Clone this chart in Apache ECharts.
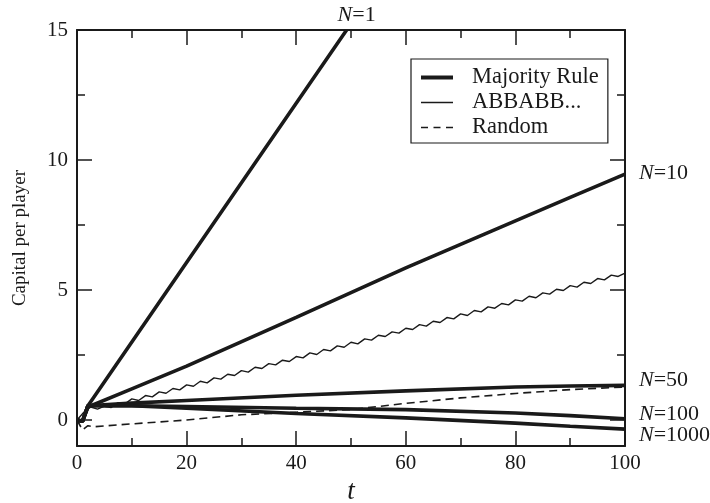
<!DOCTYPE html>
<html>
<head>
<meta charset="utf-8">
<script src="https://cdn.jsdelivr.net/npm/echarts@6/dist/echarts.min.js"></script>
<style>
  html, body { margin: 0; padding: 0; background: #fff; }
  #chart { width: 710px; height: 503px; }
</style>
</head>
<body>
<div id="chart"></div>
<script>
// capital per player vs t
var tN1 = [0, 1, 2, 49.2]
var capN1 = [0, -0.05, 0.55, 15]

var tMaj = [0, 1, 2, 10, 20, 40, 60, 80, 90, 100]
var capN10 = [0, -0.05, 0.5, 1.2, 2.07, 3.95, 5.85, 7.66, 8.56, 9.46]
var capN50 = [0, -0.05, 0.55, 0.65, 0.75, 0.95, 1.12, 1.27, 1.31, 1.33]
var capN100 = [0, -0.05, 0.55, 0.55, 0.52, 0.45, 0.4, 0.27, 0.17, 0.05]
var capN1000 = [0, -0.05, 0.55, 0.55, 0.45, 0.25, 0.08, -0.12, -0.24, -0.35]

var tAbb = [0, 1.25, 2.5, 3.75, 5, 6.25, 7.5, 8.75, 10, 11.25, 12.5, 13.75, 15, 16.25, 17.5, 18.75,
  20, 21.25, 22.5, 23.75, 25, 26.25, 27.5, 28.75, 30, 31.25, 32.5, 33.75, 35, 36.25, 37.5, 38.75,
  40, 41.25, 42.5, 43.75, 45, 46.25, 47.5, 48.75, 50, 51.25, 52.5, 53.75, 55, 56.25, 57.5, 58.75,
  60, 61.25, 62.5, 63.75, 65, 66.25, 67.5, 68.75, 70, 71.25, 72.5, 73.75, 75, 76.25, 77.5, 78.75,
  80, 81.25, 82.5, 83.75, 85, 86.25, 87.5, 88.75, 90, 91.25, 92.5, 93.75, 95, 96.25, 97.5, 98.75, 100]
var capAbb = [0, 0.3, 0.5, 0.42, 0.53, 0.48, 0.67, 0.62, 0.81, 0.75, 0.94, 0.89, 1.08, 1.03, 1.21, 1.16,
  1.35, 1.30, 1.49, 1.43, 1.62, 1.57, 1.76, 1.71, 1.90, 1.84, 2.03, 1.98, 2.17, 2.12, 2.30, 2.25,
  2.44, 2.39, 2.58, 2.52, 2.71, 2.66, 2.85, 2.80, 2.99, 2.93, 3.12, 3.07, 3.26, 3.21, 3.39, 3.34,
  3.53, 3.48, 3.67, 3.61, 3.80, 3.75, 3.94, 3.89, 4.08, 4.02, 4.21, 4.16, 4.35, 4.30, 4.48, 4.43,
  4.62, 4.57, 4.76, 4.70, 4.89, 4.84, 5.03, 4.98, 5.17, 5.11, 5.30, 5.25, 5.44, 5.39, 5.57, 5.52, 5.65]

var tRand = [0, 1, 2, 3, 10, 20, 30, 40, 50, 55, 60, 70, 80, 90, 100]
var capRand = [0, -0.38, -0.22, -0.26, -0.15, 0.0, 0.2, 0.3, 0.4, 0.52, 0.64, 0.85, 1.02, 1.17, 1.27]

var yMajor = [0, 5, 10, 15]
var yMinor = [2.5, 7.5, 12.5]

var INK = '#1a1a1a'
var SERIF = '"Liberation Serif", "DejaVu Serif", serif'

function zip (xs, ys) {
  return xs.map(function (x, i) { return [x, ys[i]] })
}

var chart = echarts.init(document.getElementById('chart'))

// thick "majority rule" curve with its N= label at the end
function majority (xs, ys, label, dx, dy) {
  return {
    name: 'Majority Rule',
    type: 'line',
    data: zip(xs, ys),
    symbol: 'none',
    lineStyle: { color: INK, width: 3.6 },
    itemStyle: { color: INK },
    endLabel: {
      show: true,
      distance: 0,
      offset: [dx, dy],
      formatter: '{i|N}=' + label,
      color: INK,
      fontFamily: SERIF,
      fontSize: 22,
      rich: {
        i: { fontStyle: 'italic', fontFamily: SERIF, fontSize: 22, color: INK }
      }
    }
  }
}

var tickBase = { inside: true, lineStyle: { color: INK, width: 1.5 } }
var frameLine = { onZero: false, lineStyle: { color: INK, width: 2 } }

var option = {
  animation: false,
  backgroundColor: '#fff',
  grid: { left: 77, right: 85, top: 30, bottom: 57, containLabel: false, outerBoundsMode: 'none' },
  legend: {
    orient: 'vertical',
    left: 411,
    top: 59,
    padding: [7, 9, 4, 10],
    itemWidth: 32,
    itemHeight: 14,
    itemGap: 2,
    borderColor: INK,
    borderWidth: 1.2,
    backgroundColor: '#fff',
    itemStyle: { color: INK },
    textStyle: { fontFamily: SERIF, fontSize: 22.5, color: INK, padding: [0, 0, 0, 14] },
    data: [
      { name: 'Majority Rule', icon: 'path://M0,0H32V4H0Z' },
      { name: 'ABBABB...', icon: 'path://M0,0H32V1.5H0Z' },
      { name: 'Random', icon: 'path://M0,0H7V1.5H0Z M12.5,0H19.5V1.5H12.5Z M25,0H32V1.5H25Z' }
    ]
  },
  xAxis: [
    {
      type: 'value', min: 0, max: 100, interval: 20, position: 'bottom',
      name: 't', nameLocation: 'middle', nameGap: 28,
      nameTextStyle: { fontFamily: SERIF, fontSize: 27, fontStyle: 'italic', color: INK },
      axisLine: frameLine,
      axisTick: Object.assign({ length: 15 }, tickBase),
      minorTick: { show: true, splitNumber: 2, length: 8, lineStyle: { color: INK, width: 1.5 } },
      axisLabel: { fontFamily: SERIF, fontSize: 21, color: INK, margin: 7 },
      splitLine: { show: false }
    },
    {
      type: 'value', min: 0, max: 100, interval: 20, position: 'top',
      axisLine: frameLine,
      axisTick: Object.assign({ length: 15 }, tickBase),
      minorTick: { show: true, splitNumber: 2, length: 8, lineStyle: { color: INK, width: 1.5 } },
      axisLabel: { show: false },
      splitLine: { show: false }
    }
  ],
  yAxis: [
    {
      type: 'value', min: -1, max: 15, position: 'left',
      name: 'Capital per player', nameLocation: 'middle', nameGap: 47,
      nameTextStyle: { fontFamily: SERIF, fontSize: 19, color: INK },
      axisLine: frameLine,
      axisTick: Object.assign({ length: 15, customValues: yMajor }, tickBase),
      axisLabel: { fontFamily: SERIF, fontSize: 21, color: INK, margin: 9, customValues: yMajor },
      splitLine: { show: false }
    },
    {
      type: 'value', min: -1, max: 15, position: 'left',
      axisLine: { show: false, onZero: false },
      axisTick: Object.assign({ length: 8, customValues: yMinor }, tickBase),
      axisLabel: { show: false },
      splitLine: { show: false }
    },
    {
      type: 'value', min: -1, max: 15, position: 'right',
      axisLine: frameLine,
      axisTick: Object.assign({ length: 15, customValues: yMajor }, tickBase),
      axisLabel: { show: false },
      splitLine: { show: false }
    },
    {
      type: 'value', min: -1, max: 15, position: 'right',
      axisLine: { show: false, onZero: false },
      axisTick: Object.assign({ length: 8, customValues: yMinor }, tickBase),
      axisLabel: { show: false },
      splitLine: { show: false }
    }
  ],
  series: [
    majority(tN1, capN1, '1', -9, -15),
    majority(tMaj, capN10, '10', 14, -1),
    majority(tMaj, capN50, '50', 14, -5),
    majority(tMaj, capN100, '100', 14, -4),
    majority(tMaj, capN1000, '1000', 14, 6),
    {
      name: 'ABBABB...',
      type: 'line',
      data: zip(tAbb, capAbb),
      symbol: 'none',
      lineStyle: { color: INK, width: 1.4 },
      itemStyle: { color: INK }
    },
    {
      name: 'Random',
      type: 'line',
      data: zip(tRand, capRand),
      symbol: 'none',
      lineStyle: { color: INK, width: 1.6, type: [8, 5] },
      itemStyle: { color: INK }
    }
  ]
}

chart.setOption(option)
</script>
</body>
</html>
